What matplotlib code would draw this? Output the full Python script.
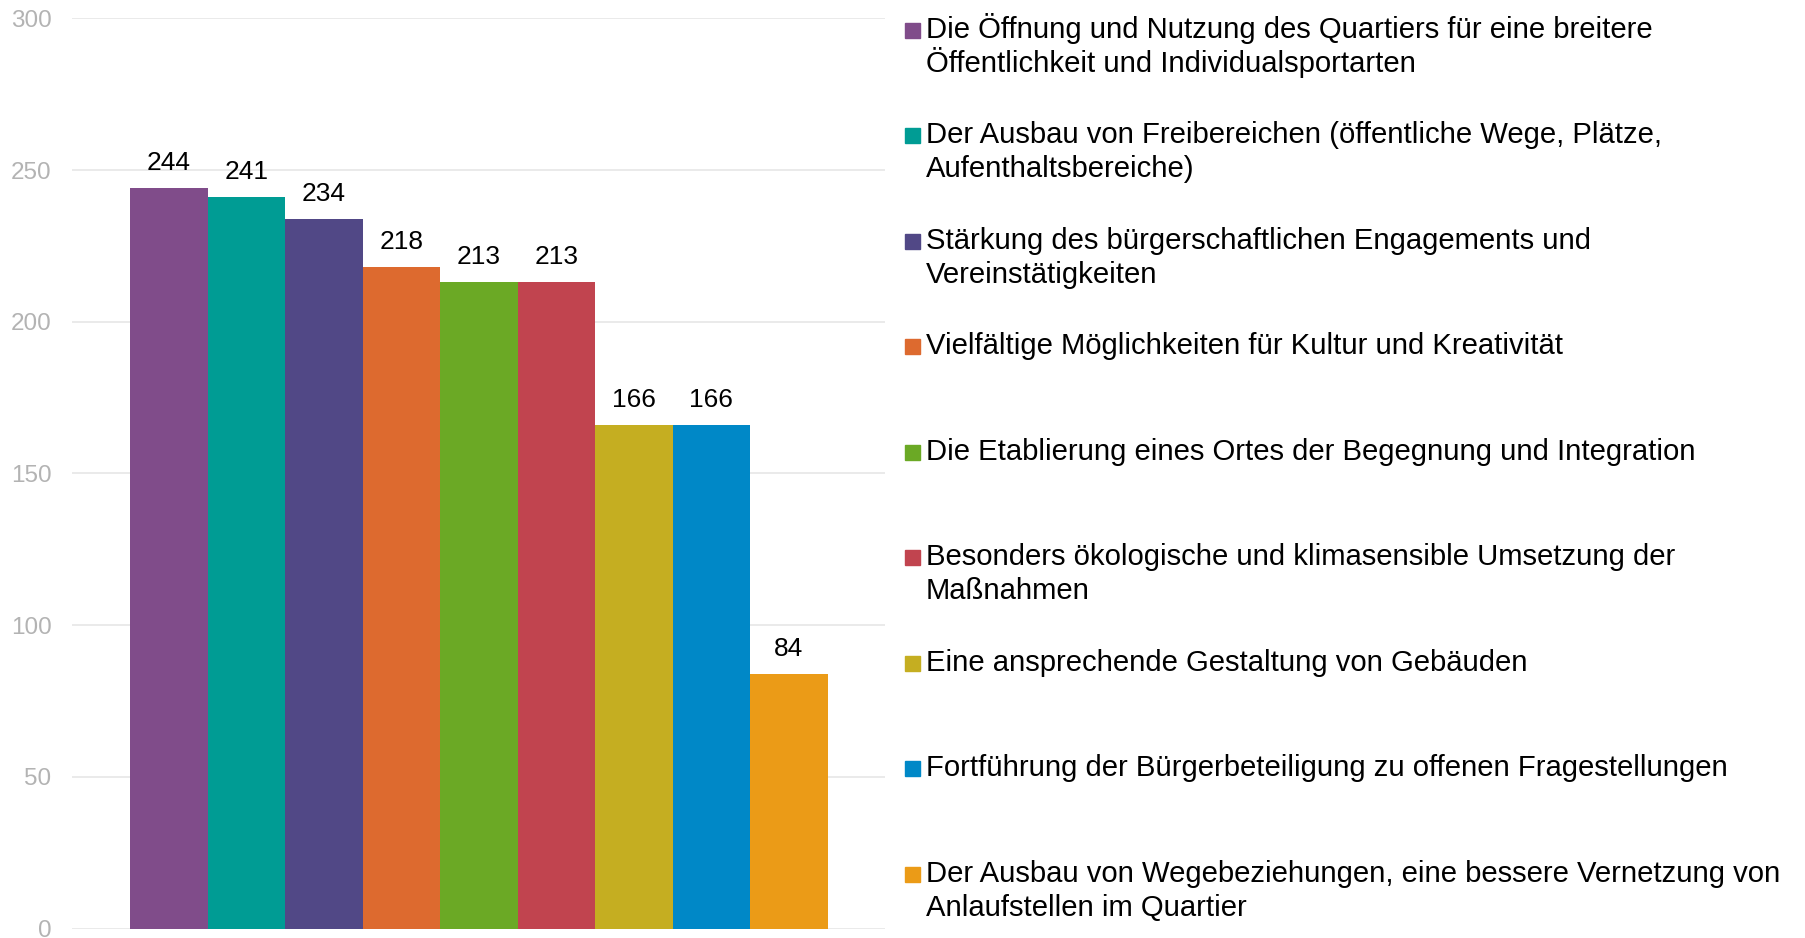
import matplotlib
matplotlib.use('Agg')
import matplotlib.pyplot as plt
from matplotlib.patches import Rectangle

plt.rcParams['font.family'] = ['Liberation Sans', 'DejaVu Sans']

# Daten
labels = [
    'Die Öffnung und Nutzung des Quartiers für eine breitere\nÖffentlichkeit und Individualsportarten',
    'Der Ausbau von Freibereichen (öffentliche Wege, Plätze,\nAufenthaltsbereiche)',
    'Stärkung des bürgerschaftlichen Engagements und\nVereinstätigkeiten',
    'Vielfältige Möglichkeiten für Kultur und Kreativität',
    'Die Etablierung eines Ortes der Begegnung und Integration',
    'Besonders ökologische und klimasensible Umsetzung der\nMaßnahmen',
    'Eine ansprechende Gestaltung von Gebäuden',
    'Fortführung der Bürgerbeteiligung zu offenen Fragestellungen',
    'Der Ausbau von Wegebeziehungen, eine bessere Vernetzung von\nAnlaufstellen im Quartier',
]
values = [244, 241, 234, 218, 213, 213, 166, 166, 84]
colors = ['#804C8A', '#009C94', '#514886', '#DD6A2F', '#6BA925',
          '#C1444F', '#C5AE21', '#0088C7', '#EB9B17']
yticks = [0, 50, 100, 150, 200, 250, 300]

W, H = 1806, 938
fig = plt.figure(figsize=(W / 100, H / 100), dpi=100)
ax = fig.add_axes([72.3 / W, 9.5 / H, (885 - 72.3) / W, (928.5 - 18.4) / H])

x = list(range(len(values)))
ax.bar(x, values, width=1.0, color=colors, zorder=2)

# Werte über den Balken
for xi, v in zip(x, values):
    ax.annotate(str(v), (xi, v), xytext=(0, 13), textcoords='offset points',
                ha='center', va='baseline', fontsize=19, color='black')

ax.set_xlim(-1.245, 9.24)
ax.set_ylim(0, 300)
ax.set_yticks(yticks)
ax.set_xticks([])
ax.grid(axis='y', color='#e8e8e8', linewidth=1.3, zorder=0)
ax.tick_params(axis='y', length=0, pad=15, labelsize=17.5, labelcolor='#b3b3b3')
for s in ax.spines.values():
    s.set_visible(False)

# Legende rechts (Zeilen einzeln, damit die erste Zeile am Marker steht)
step = 105.5
line_h = 34
for i, (lab, col) in enumerate(zip(labels, colors)):
    base = 37.8 + i * step
    fig.add_artist(Rectangle((905 / W, 1 - base / H), 15 / W, 15 / H,
                             transform=fig.transFigure, color=col))
    for j, line in enumerate(lab.split('\n')):
        fig.text(926 / W, 1 - (base + j * line_h) / H, line, fontsize=21.1,
                 va='baseline', ha='left', color='black')

plt.savefig('out.png', dpi=100)
